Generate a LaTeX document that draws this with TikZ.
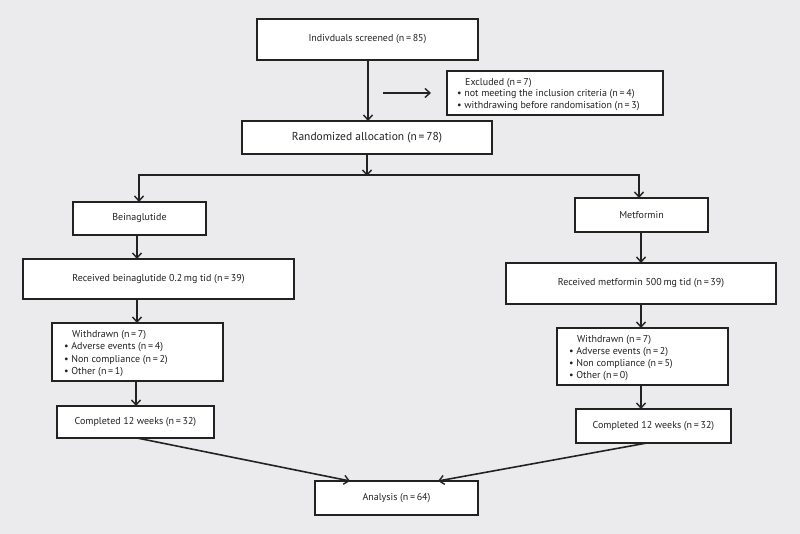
\documentclass[tikz,border=0pt]{standalone}
\usepackage{fontspec}
\setmainfont{PT Sans}
\usetikzlibrary{arrows.meta}
\definecolor{bg}{HTML}{EBEBED}
\definecolor{ink}{HTML}{222222}
\begin{document}
\begin{tikzpicture}[x=1pt,y=-1pt,
  box/.style={draw=ink,fill=white,line width=1.6pt,inner sep=0pt,outer sep=0pt,font=\fontsize{10}{12}\selectfont,text=ink},
  lst/.style={anchor=west,align=left,text=ink,inner sep=0pt},
  arr/.style={draw=ink,line width=1.6pt,-{Straight Barb[length=5pt,width=9pt,line width=1.4pt]}},
  ln/.style={draw=ink,line width=1.6pt}]
\fill[bg] (0,0) rectangle (800,534);
\useasboundingbox (0,0) rectangle (800,534);
\newcommand{\nn}[1]{(n\,=\,#1)}
\node[box,minimum width=221pt,minimum height=41pt] (scr) at (367.5,39.5) {Indivduals screened \nn{85}};
\node[box,minimum width=216pt,minimum height=44pt] (exc) at (555,93) {};
\node[lst,font=\fontsize{10}{11.5}\selectfont] (exct) at (457,94.5)
  {\hspace*{8pt}Excluded \nn{7}\\ • not meeting the inclusion criteria \nn{4}\\ • withdrawing before randomisation \nn{3}};
\node[box,minimum width=250pt,minimum height=33pt,font=\fontsize{11.5}{13}\selectfont] (rand) at (367,137.5) {Randomized allocation \nn{78}};
\node[box,minimum width=133pt,minimum height=33pt] (bein) at (139.5,218.5) {Beinaglutide};
\node[box,minimum width=133pt,minimum height=34pt] (met) at (641.5,215) {Metformin};
\node[box,minimum width=271pt,minimum height=40pt] (recb) at (158.5,279) {Received beinaglutide 0.2\,mg tid \nn{39}};
\node[box,minimum width=270pt,minimum height=41pt] (recm) at (641,283.5) {Received metformin 500\,mg tid \nn{39}};
\node[box,minimum width=171pt,minimum height=58pt] (wdl) at (137.5,352) {};
\node[lst,font=\fontsize{10}{12.3}\selectfont] (wdlt) at (64,353.5)
  {\hspace*{8pt}Withdrawn \nn{7}\\ • Adverse events \nn{4}\\ • Non compliance \nn{2}\\ • Other \nn{1}};
\node[box,minimum width=171pt,minimum height=57pt] (wdr) at (642.5,356.5) {};
\node[lst,font=\fontsize{10}{12.3}\selectfont] (wdrt) at (569,358)
  {\hspace*{8pt}Withdrawn \nn{7}\\ • Adverse events \nn{2}\\ • Non compliance \nn{5}\\ • Other \nn{0}};
\node[box,minimum width=157pt,minimum height=32pt] (cml) at (135.5,422) {Completed 12 weeks \nn{32}};
\node[box,minimum width=155pt,minimum height=34pt] (cmr) at (653.5,426) {Completed 12 weeks \nn{32}};
\node[box,minimum width=163pt,minimum height=34pt] (ana) at (396.5,498) {Analysis \nn{64}};
% connectors
\coordinate (ea) at (383,93);
\coordinate (eb) at (431,93);
\coordinate (split) at (367,175);
\coordinate (sl) at (139,175);
\coordinate (sr) at (639,175);
\draw[arr] (scr.south -| 368,0) -- (rand.north -| 368,0);
\draw[arr] (ea) -- (eb);
\draw[arr] (rand.south) -- ([yshift=-1pt]split);
\draw[ln] ([xshift=-0.8pt]sl) -- ([xshift=0.8pt]sr);
\draw[arr] (sl) -- (sl |- bein.north);
\draw[arr] (sr) -- (sr |- met.north);
\draw[arr] (bein.south -| 137,0) -- (recb.north -| 137,0);
\draw[arr] (recb.south -| 137,0) -- (wdl.north -| 137,0);
\draw[arr] (wdl.south -| 136,0) -- (cml.north -| 136,0);
\draw[arr] (met.south -| 641,0) -- (recm.north -| 641,0);
\draw[arr] (recm.south -| 641,0) -- (wdr.north -| 641,0);
\draw[arr] (wdr.south -| 641,0) -- (cmr.north -| 641,0);
\draw[arr] (cml.south -| 137,0) -- (ana.north -| 350,0);
\draw[arr] (cmr.south -| 647,0) -- (ana.north -| 438,0);
\end{tikzpicture}
\end{document}
